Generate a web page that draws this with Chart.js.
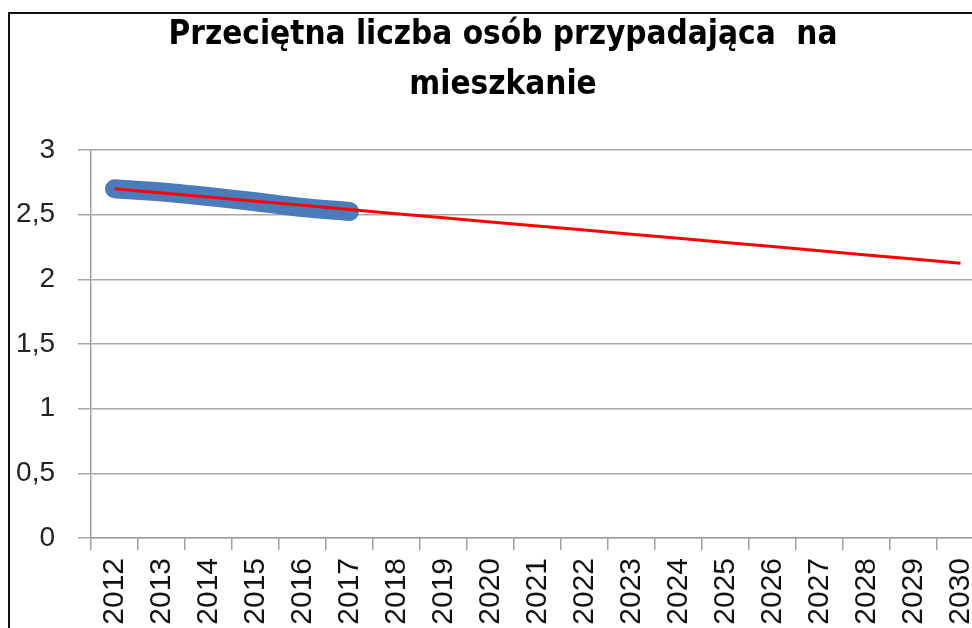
<!DOCTYPE html>
<html>
<head>
<meta charset="utf-8">
<script src="https://cdn.jsdelivr.net/npm/chart.js@4/dist/chart.umd.min.js"></script>
<style>
  html, body { margin: 0; padding: 0; background: #fff; overflow: hidden; }
  #wrap { position: absolute; left: 0; top: 0; width: 1010px; height: 640px; }
  #frame {
    position: absolute; left: 8px; top: 12px; width: 1000px; height: 700px;
    border-left: 2px solid #111; border-top: 2px solid #111; pointer-events: none;
  }
  #title {
    position: absolute; left: 0; top: 8px; width: 1006px; text-align: center;
    font: bold 33px/50px 'Liberation Sans Narrow', 'DejaVu Sans Condensed', sans-serif;
    color: #000;
  }
</style>
</head>
<body>
<div id="wrap"><canvas id="chart" width="1010" height="640"></canvas></div>
<div id="title">Przeciętna liczba osób przypadająca&nbsp; na<br>mieszkanie</div>
<div id="frame"></div>
<script>
// Data
const years = ['2012', '2013', '2014', '2015', '2016', '2017', '2018', '2019', '2020', '2021',
  '2022', '2023', '2024', '2025', '2026', '2027', '2028', '2029', '2030'];
const actualValues = [2.70, 2.675, 2.64, 2.60, 2.555, 2.525];
const trendValues = [2.700, 2.668, 2.636, 2.604, 2.572, 2.540, 2.508, 2.476, 2.444, 2.412,
  2.381, 2.349, 2.317, 2.285, 2.253, 2.221, 2.189, 2.157, 2.125];
const yTicks = [0, 0.5, 1, 1.5, 2, 2.5, 3];

const yFont = { family: "'Liberation Sans', Arial, sans-serif", size: 28 };
const xFont = { family: "'Liberation Sans', Arial, sans-serif", size: 30 };

new Chart(document.getElementById('chart'), {
  type: 'line',
  data: {
    labels: years,
    datasets: [
      {
        label: 'Trend',
        data: trendValues,
        borderColor: '#ff0000',
        borderWidth: 3,
        pointRadius: 0,
        tension: 0,
        order: 0
      },
      {
        label: 'Dane',
        data: actualValues,
        borderColor: '#4a7bbb',
        borderWidth: 19,
        borderCapStyle: 'round',
        borderJoinStyle: 'round',
        pointRadius: 0,
        tension: 0.3,
        order: 1
      }
    ]
  },
  options: {
    responsive: false,
    animation: false,
    layout: { padding: { left: 0, right: 26, top: 150, bottom: 0 } },
    plugins: {
      legend: { display: false },
      tooltip: { enabled: false },
      title: { display: false }
    },
    scales: {
      x: {
        offset: true,
        grid: { offset: true, drawOnChartArea: false, drawTicks: true, tickLength: 12, color: '#a0a0a0', lineWidth: 1.5 },
        border: { display: true, color: '#a0a0a0', width: 1.5 },
        ticks: { color: '#111', font: xFont, minRotation: 90, maxRotation: 90, padding: 8, autoSkip: false },
        afterFit: (s) => { s.height = 102; }
      },
      y: {
        min: 0,
        max: 3,
        afterBuildTicks: (s) => { s.ticks = yTicks.map(v => ({ value: v })); },
        grid: { color: '#a6a6a6', lineWidth: 1.5, tickLength: 13 },
        border: { display: true, color: '#a0a0a0', width: 1.5 },
        ticks: {
          color: '#222',
          font: yFont,
          padding: 23,
          callback: (v) => String(v).replace('.', ',')
        },
        afterFit: (s) => { s.width = 91; }
      }
    }
  }
});
</script>
</body>
</html>
